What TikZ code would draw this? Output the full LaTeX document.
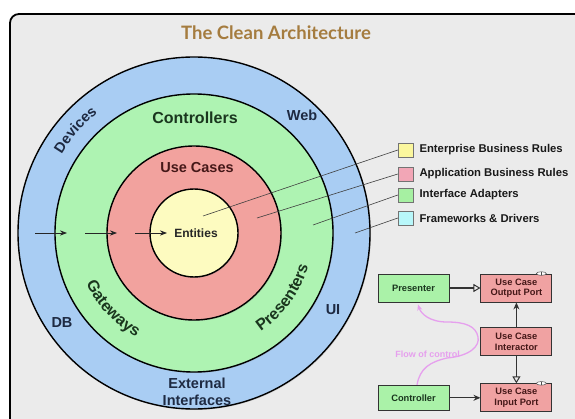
\documentclass[tikz,border=0pt]{standalone}
\usepackage{fontspec}
\setmainfont{Liberation Sans}[BoldFont={Liberation Sans Bold}]
\newfontfamily\titlefont{Lato}[BoldFont={Lato Bold}]
\usetikzlibrary{arrows.meta, positioning, decorations.text, shadows}

\definecolor{framegray}{HTML}{EBEBEB}
\definecolor{ringblue}{HTML}{A9CDF3}
\definecolor{ringgreen}{HTML}{AEF3B2}
\definecolor{ringred}{HTML}{F2A29E}
\definecolor{ringyellow}{HTML}{FDFBC0}
\definecolor{keyyellow}{HTML}{FBF79E}
\definecolor{keypink}{HTML}{F2A6B6}
\definecolor{keygreen}{HTML}{A6F0A2}
\definecolor{keycyan}{HTML}{B8F7FA}
\definecolor{boxgreen}{HTML}{AAF2A8}
\definecolor{boxred}{HTML}{F0A2A2}
\definecolor{txtblue}{HTML}{1E2A42}
\definecolor{txtgreen}{HTML}{1A361E}
\definecolor{txtred}{HTML}{451818}
\definecolor{txtdark}{HTML}{262626}
\definecolor{titlebrown}{HTML}{A57C3F}
\definecolor{flowpink}{HTML}{E6A0EE}

\begin{document}
\begin{tikzpicture}[x=1pt,y=1pt,>=Stealth,
  ring/.style={draw=black,line width=1.4pt,drop shadow={opacity=0.25,shadow xshift=1pt,shadow yshift=-1pt}},
  lbl/.style={font=\bfseries\fontsize{14.5}{17}\selectfont},
  key/.style={draw=black!55,minimum width=15pt,minimum height=14pt,inner sep=0pt},
  keytext/.style={anchor=west,font=\bfseries\fontsize{11.3}{12}\selectfont,text=black!90},
  leader/.style={draw=black!75,line width=0.6pt},
  box/.style={draw=black!80,line width=0.9pt,minimum width=71pt,minimum height=28pt,align=center,inner sep=1pt,font=\bfseries\fontsize{9.3}{10.5}\selectfont},
  link/.style={draw=black!80,line width=1.3pt},
  flow/.style={draw=flowpink,line width=1.3pt,-{Stealth[length=6pt,width=5pt]}}]
  \clip (0,0) rectangle (575,418);
  \fill[white] (0,0) rectangle (575,418);
  \draw[line width=1.8pt,fill=framegray,rounded corners=9pt] (10,404) rectangle (595,-20);
  \node[font=\titlefont\bfseries\fontsize{18.5}{20}\selectfont,text=titlebrown] (title) at (276,385) {The Clean Architecture};

  % the four rings
  \coordinate (c) at (194,185);
  \draw[ring,fill=ringblue] (c) circle[radius=176];
  \draw[ring,fill=ringgreen] (c) circle[radius=139];
  \draw[ring,fill=ringred] (c) circle[radius=87];
  \draw[ring,fill=ringyellow] (c) circle[radius=44];

  % labels on the rings
  \path[decorate,decoration={text along path,text align=center,text color=txtblue,
    text={|\bfseries\fontsize{14.5}{17}\selectfont|Devices}}]
    (c) ++(170:154) arc[start angle=170,end angle=108,radius=154];
  \path[decorate,decoration={text along path,text align=center,text color=txtgreen,
    text={|\bfseries\fontsize{16}{17}\selectfont|Gateways}}]
    (c) ++(193:119) arc[start angle=193,end angle=253,radius=119];
  \path[decorate,decoration={text along path,text align=center,text color=txtgreen,
    text={|\bfseries\fontsize{16}{17}\selectfont|Presenters}}]
    (c) ++(292:119) arc[start angle=292,end angle=356,radius=119];
  \node[lbl,text=txtblue] (web) at (302,303) {Web};
  \node[lbl,text=txtblue] (db) at (62,95) {DB};
  \node[lbl,text=txtblue] (ui) at (333,108) {UI};
  \node[lbl,text=txtblue,align=center] (ext) at (197,26) {External\\Interfaces};
  \node[lbl,text=txtgreen,font=\bfseries\fontsize{16}{17}\selectfont] (ctrls) at (195,300) {Controllers};
  \node[lbl,text=txtred] (cases) at (197,250) {Use Cases};
  \node[lbl,text=txtdark,font=\bfseries\fontsize{12}{14}\selectfont] (ent) at (196,185) {Entities};

  % dependency arrows pointing inwards
  \foreach \i/\xa/\xb in {1/35/67,2/85/117,3/135/167} {
    \coordinate (in\i) at (\xa,185);
    \coordinate (out\i) at (\xb,185);
    \draw[->,line width=0.9pt,black!85] (in\i) -- (out\i);
  }

  % legend
  \node[key,fill=keyyellow] (k1) at (405.5,268) {};
  \node[key,fill=keypink] (k2) at (405.5,244) {};
  \node[key,fill=keygreen] (k3) at (405.5,223) {};
  \node[key,fill=keycyan] (k4) at (405.5,200) {};
  \node[keytext] at (416,268) {Enterprise Business Rules};
  \node[keytext] at (416,244) {Application Business Rules};
  \node[keytext] at (416,223) {Interface Adapters};
  \node[keytext] at (416,200) {Frameworks \& Drivers};
  \coordinate (p1) at (203,202);
  \coordinate (p2) at (257,200);
  \coordinate (p3) at (313,193);
  \coordinate (p4) at (355,185);
  \foreach \i in {1,...,4} \draw[leader] (k\i.west) -- (p\i);

  % boundary crossing
  \node[box,fill=boxgreen,text=txtgreen] (presenter) at (413.5,130) {Presenter};
  \node[box,fill=boxred,text=txtred,right=31pt of presenter] (outport) {Use Case\\Output Port};
  \node[box,fill=boxred,text=txtred,below=25pt of outport] (interactor) {Use Case\\Interactor};
  \node[box,fill=boxred,text=txtred,below=27pt of interactor] (inport) {Use Case\\Input Port};
  \node[box,fill=boxgreen,text=txtgreen,left=31pt of inport,minimum height=25pt] (controller) {Controller};
  \foreach \p in {outport,inport} {
    \draw[black!70,fill=white,line width=0.5pt] ([xshift=-11pt]\p.north east) ellipse[x radius=5pt,y radius=1.8pt];
    \draw[black!70,line width=0.5pt] ([xshift=-11pt,yshift=-1.3pt]\p.north east) -- ([xshift=-11pt,yshift=1.3pt]\p.north east);
  }
  \draw[link,-{Triangle[open,length=7pt,width=8pt,line width=1pt]}] (presenter) -- (outport);
  \draw[link,-{Stealth[length=7pt,width=6pt]}] (interactor) -- (outport);
  \draw[link,-{Triangle[open,length=7pt,width=8pt,line width=1pt]}] (interactor) -- (inport);
  \draw[link,-{Stealth[length=7pt,width=6pt]}] (controller) -- (inport);
  \draw[flow] ([xshift=3.5pt]controller.north) .. controls (420,50) and (430,56) .. (447,60)
    .. controls (470,62) and (480,72) .. (478,81)
    .. controls (476,92) and (465,96) .. (447,96)
    .. controls (430,96) and (421,104) .. ([xshift=4.5pt,yshift=-2pt]presenter.south);
  \node[text=flowpink,font=\bfseries\fontsize{9}{10}\selectfont] (flowtext) at (427.5,64) {Flow of control};
\end{tikzpicture}
\end{document}
